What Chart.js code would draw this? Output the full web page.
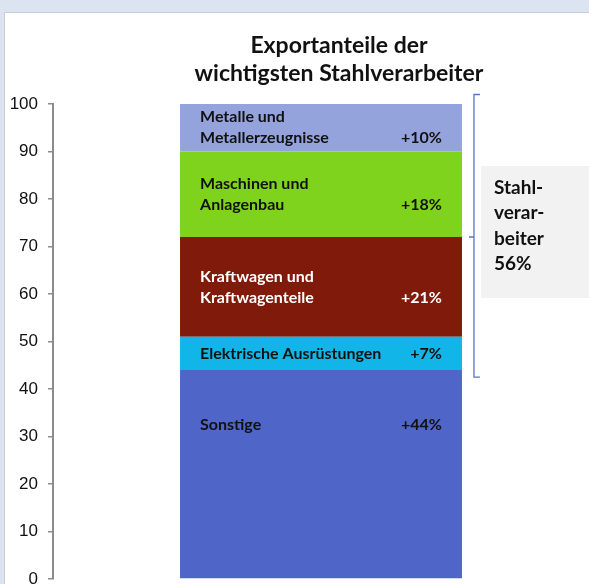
<!DOCTYPE html>
<html>
<head>
<meta charset="utf-8">
<script src="https://cdn.jsdelivr.net/npm/chart.js@4"></script>
<style>
  html, body { margin: 0; padding: 0; background: #dce4f2; overflow: hidden; }
  #panel { position: absolute; left: 4px; top: 12px; width: 600px; height: 600px; background: #fff; border-left: 1px solid #c9cdd4; border-top: 1px solid #c9cdd4; }
  #myChart { position: absolute; left: 0; top: 0; }
</style>
</head>
<body>
<div id="panel"></div>
<canvas id="myChart" width="589" height="584"></canvas>
<script>
// stacked from bottom to top
const segments = ["Sonstige", "Elektrische Ausrüstungen", "Kraftwagen und Kraftwagenteile", "Maschinen und Anlagenbau", "Metalle und Metallerzeugnisse"]
const labelLines = [["Sonstige"], ["Elektrische Ausrüstungen"], ["Kraftwagen und", "Kraftwagenteile"], ["Maschinen und", "Anlagenbau"], ["Metalle und", "Metallerzeugnisse"]]
const values = [44, 7, 21, 18, 10]
const growth = ["+44%", "+7%", "+21%", "+18%", "+10%"]
const colors = ["#4f66c8", "#12b5e8", "#801a0a", "#80d31c", "#95a3dc"]
const textColors = ["#111", "#111", "#fff", "#111", "#111"]
const titleLines = ["Exportanteile der", "wichtigsten Stahlverarbeiter"]
const boxLines = ["Stahl-", "verar-", "beiter", "56%"]
const bracketFrom = 42.5
const bracketTo = 102

const BOLD = "Lato, 'Open Sans', sans-serif"

const datasets = []
for (let i = 0; i < values.length; i++) {
   datasets.push({
      label: segments[i],
      data: [values[i]],
      backgroundColor: colors[i],
      borderWidth: 0,
      categoryPercentage: 0.526,
      barPercentage: 1
   })
}

const overlay = {
   id: "overlay",
   afterDraw(chart) {
      const ctx = chart.ctx
      const y = chart.scales.y
      ctx.save()
      // title
      ctx.fillStyle = "#111"
      ctx.font = "bold 23px " + BOLD
      ctx.textAlign = "center"
      ctx.textBaseline = "middle"
      ctx.fillText(titleLines[0], 339, 46)
      ctx.fillText(titleLines[1], 339, 74)

      // labels inside the segments
      let right = 0
      for (let i = 0; i < values.length; i++) {
         const bar = chart.getDatasetMeta(i).data[0]
         const left = bar.x - bar.width / 2
         right = bar.x + bar.width / 2
         let cy = (bar.y + bar.base) / 2
         if (i == 0) cy = bar.y + 55
         const lines = labelLines[i]
         const lh = 21
         ctx.fillStyle = textColors[i]
         ctx.font = "bold 16px " + BOLD
         ctx.textBaseline = "middle"
         ctx.textAlign = "left"
         for (let j = 0; j < lines.length; j++) {
            const ly = cy + (j - (lines.length - 1) / 2) * lh
            ctx.fillText(lines[j], left + 20, ly)
         }
         ctx.textAlign = "right"
         const py = cy + (lines.length - 1) / 2 * lh
         ctx.fillText(growth[i], right - 20, py)
      }

      // bracket
      const bx = right + 12
      const top = y.getPixelForValue(bracketTo)
      const bottom = y.getPixelForValue(bracketFrom)
      const mid = y.getPixelForValue(72)
      ctx.strokeStyle = "#5a72cc"
      ctx.lineWidth = 1.3
      ctx.beginPath()
      ctx.moveTo(bx + 6, top)
      ctx.lineTo(bx, top)
      ctx.lineTo(bx, bottom)
      ctx.lineTo(bx + 6, bottom)
      ctx.moveTo(bx, mid)
      ctx.lineTo(bx - 5, mid)
      ctx.stroke()

      // grey box
      ctx.fillStyle = "#f2f2f2"
      ctx.fillRect(bx + 7, mid - 71, 200, 132)
      ctx.fillStyle = "#111"
      ctx.font = "bold 19px " + BOLD
      ctx.textAlign = "left"
      for (let j = 0; j < boxLines.length; j++) {
         ctx.fillText(boxLines[j], bx + 20, mid - 49 + j * 25.3)
      }
      ctx.restore()
   }
}

new Chart(document.getElementById("myChart"), {
   type: "bar",
   data: { labels: [""], datasets: datasets },
   options: {
      responsive: false,
      animation: false,
      layout: { padding: { top: 104, bottom: 5, left: 0, right: 0 } },
      plugins: { legend: { display: false }, tooltip: { enabled: false }, title: { display: false } },
      scales: {
         x: { stacked: true, display: false },
         y: {
            stacked: true,
            min: 0,
            max: 100,
            afterFit(scale) {
               scale.width = 53
               scale.paddingTop = 0
               scale.paddingBottom = 0
            },
            ticks: { stepSize: 10, color: "#111", padding: 10, font: { family: "'Liberation Sans', Arial", size: 17 } },
            grid: { display: true, drawOnChartArea: false, drawTicks: true, tickLength: 5, color: "#8c8c8c", lineWidth: 1.5 },
            border: { display: true, color: "#8c8c8c", width: 2 }
         }
      }
   },
   plugins: [overlay]
})
</script>
</body>
</html>
